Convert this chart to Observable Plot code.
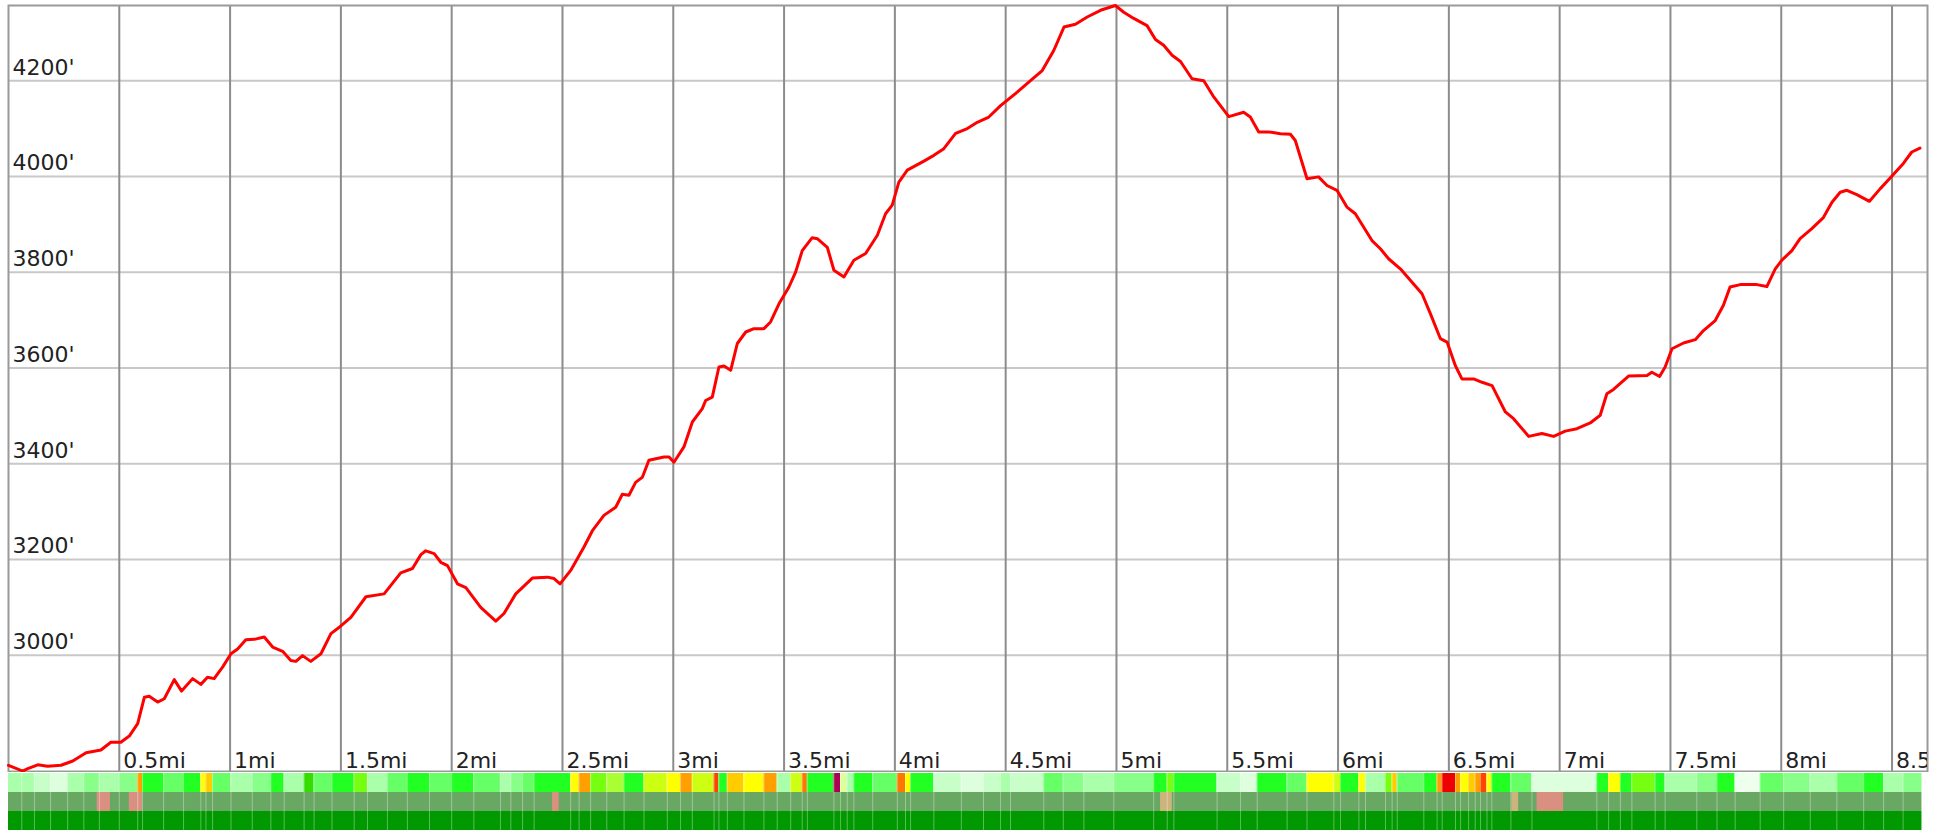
<!DOCTYPE html>
<html><head><meta charset="utf-8">
<script src="https://cdn.jsdelivr.net/npm/d3@7"></script>
<script src="https://cdn.jsdelivr.net/npm/@observablehq/plot@0.6"></script>
<style>
html,body{margin:0;padding:0;background:#fff;}
#chart svg{display:block;}
</style></head><body><div id="chart"></div>
<script>
// Elevation profile (distance in miles, elevation in feet)
const miles = [0.000,0.064,0.087,0.132,0.177,0.237,0.290,0.350,0.417,0.462,0.507,0.545,0.583,0.613,0.635,0.673,0.703,0.748,0.781,0.831,0.868,0.898,0.928,0.966,1.004,1.034,1.071,1.109,1.154,1.192,1.237,1.274,1.297,1.327,1.364,1.410,1.455,1.500,1.545,1.613,1.695,1.770,1.823,1.861,1.883,1.921,1.951,1.981,2.026,2.064,2.131,2.199,2.236,2.289,2.364,2.432,2.462,2.489,2.537,2.597,2.635,2.687,2.740,2.770,2.800,2.830,2.861,2.890,2.958,2.981,3.003,3.048,3.086,3.131,3.146,3.176,3.206,3.229,3.259,3.289,3.327,3.364,3.409,3.439,3.477,3.522,3.552,3.582,3.627,3.650,3.695,3.725,3.770,3.815,3.868,3.921,3.958,3.988,4.018,4.056,4.131,4.176,4.221,4.274,4.327,4.372,4.424,4.477,4.552,4.612,4.665,4.717,4.763,4.815,4.868,4.928,4.995,5.033,5.078,5.138,5.176,5.213,5.251,5.289,5.341,5.394,5.439,5.507,5.574,5.604,5.642,5.687,5.740,5.785,5.807,5.860,5.912,5.950,5.995,6.040,6.078,6.153,6.191,6.228,6.281,6.326,6.379,6.417,6.462,6.492,6.529,6.559,6.612,6.650,6.695,6.755,6.792,6.860,6.920,6.973,7.025,7.078,7.138,7.183,7.213,7.243,7.311,7.394,7.416,7.451,7.476,7.507,7.559,7.612,7.649,7.702,7.739,7.769,7.815,7.890,7.935,7.973,8.003,8.048,8.085,8.138,8.190,8.229,8.266,8.296,8.341,8.398,8.446,8.506,8.551,8.589,8.626];
const elev = [2770,2758,2763,2771,2768,2770,2779,2796,2802,2818,2818,2831,2857,2912,2914,2902,2909,2949,2925,2951,2939,2954,2951,2975,3003,3013,3032,3033,3038,3017,3008,2989,2987,2999,2987,3003,3045,3061,3079,3122,3128,3172,3181,3210,3218,3212,3194,3187,3149,3141,3100,3071,3087,3128,3161,3163,3160,3149,3177,3226,3260,3292,3309,3336,3334,3361,3372,3407,3414,3414,3403,3435,3487,3515,3532,3539,3602,3604,3595,3651,3675,3682,3682,3696,3734,3769,3800,3845,3872,3870,3852,3804,3790,3825,3839,3877,3922,3940,3988,4013,4032,4044,4058,4090,4100,4113,4124,4148,4176,4200,4221,4263,4312,4318,4333,4347,4357,4343,4330,4315,4286,4274,4253,4240,4204,4200,4166,4125,4134,4124,4093,4093,4089,4088,4075,3995,3999,3981,3971,3936,3922,3866,3849,3828,3807,3783,3755,3713,3661,3654,3605,3577,3577,3570,3563,3508,3494,3457,3463,3457,3468,3473,3485,3501,3546,3555,3583,3584,3591,3582,3602,3640,3652,3659,3678,3699,3731,3769,3774,3774,3770,3807,3825,3845,3870,3891,3914,3946,3967,3971,3962,3948,3974,4004,4027,4051,4059];

const yTicks = [3000,3200,3400,3600,3800,4000,4200];
const xTicks = [0.5,1,1.5,2,2.5,3,3.5,4,4.5,5,5.5,6,6.5,7,7.5,8,8.5];

// Grade strip: run start (mi) and grade class
const gradeStart = [0,0.06,0.117,0.19,0.267,0.34,0.41,0.50,0.583,0.605,0.70,0.79,0.868,0.891,0.921,1.004,1.10,1.184,1.244,1.334,1.379,1.46,1.56,1.62,1.71,1.80,1.90,2.00,2.10,2.22,2.267,2.32,2.372,2.537,2.575,2.627,2.70,2.778,2.868,2.973,3.033,3.086,3.184,3.206,3.244,3.319,3.409,3.469,3.530,3.582,3.605,3.725,3.755,3.785,3.815,3.90,4.011,4.048,4.071,4.176,4.30,4.40,4.477,4.522,4.672,4.76,4.853,4.988,5.168,5.229,5.259,5.454,5.56,5.635,5.770,5.860,5.981,6.011,6.094,6.124,6.214,6.244,6.267,6.387,6.447,6.470,6.530,6.553,6.589,6.619,6.643,6.672,6.694,6.78,6.875,7.168,7.221,7.274,7.326,7.431,7.476,7.619,7.710,7.792,7.905,8.011,8.131,8.251,8.372,8.462,8.55];
const gradeClass = ["l","l","vl","vl2","l","lm","l","lm","o","g","m","g","y","gold","m","l","lm","g","l","g2","m","g","yg","l","m","g","m","g","m","l","lm","m","g","y","o","yg","ygl","g","ly","y","o","ly","ro","g","gold","y","o","l","ly","do","g","p","pl","l","g","m","do","y","g","vl","vl2","vl","l","vl","m","lm","l","lm","g","yg","g","vl","vl2","g","m","y","ly","g","y","l","yg","gold","m","g","o","r","o","y","gold","o","ro","y","g","m","vl2","g","y","g","yg","g","l","lm","g","vvl","m","lm","l","m","g","l","lm"];
const stripEnd = 8.635;
const classNames = ["vvl","vl2","vl","l","lm","m","g","g2","yg","ygl","ly","pl","y","gold","o","do","ro","r","p"];
const classColors = ["#eeffee","#ddffdd","#c8ffc8","#aaffaa","#88ff88","#66ff66","#22ff22","#33dd00","#77ff11","#aaff33","#ccff11","#ddff99","#ffff00","#ffcc00","#ffa000","#ff7700","#ff4400","#ee0000","#aa0055"];

// Surface strip
const surfaceStart = [0,0.40,0.545,2.455,5.199,6.785,6.898];
const surfaceEnd = [8.635,0.46,0.605,2.485,5.252,6.815,7.018];
const surfaceType = ["trail","paved","paved","paved","gravel","gravel","paved"];
const surfaceNames = ["trail","paved","gravel"];
const surfaceColors = ["#68a862","#d99080","#ccb47c"];

const baseColor = "#009900";

// ---- build tables
const profile = miles.map((m, i) => ({mi: m, ft: elev[i]}));
const colorOf = Object.fromEntries(classNames.map((c, i) => [c, classColors[i]]));
const gradeRuns = gradeStart.map((s, i) => ({
  start: s, end: i + 1 < gradeStart.length ? gradeStart[i + 1] : stripEnd,
  row: "grade", color: colorOf[gradeClass[i]]
}));
const surfColorOf = Object.fromEntries(surfaceNames.map((c, i) => [c, surfaceColors[i]]));
const surfaceRuns = surfaceStart.map((s, i) => ({start: s, end: surfaceEnd[i], row: "surface", color: surfColorOf[surfaceType[i]]}));
const baseRuns = [{start: 0, end: stripEnd, row: "base", color: baseColor}];

const W = 1940;
const xDomain = [0, 8.66];
const font = "DejaVu Sans, Verdana, sans-serif";

const main = Plot.plot({
  width: W, height: 772,
  marginLeft: 8, marginRight: 13, marginTop: 5, marginBottom: 1,
  x: {domain: xDomain, axis: null},
  y: {domain: [2757, 4357], axis: null},
  style: {fontFamily: font, fontSize: "22px", background: "#fff"},
  marks: [
    Plot.ruleY(yTicks, {stroke: "#c8c8c8", strokeWidth: 2}),
    Plot.ruleX(xTicks, {stroke: "#8c8c8c", strokeWidth: 2}),
    Plot.frame({stroke: "#9a9a9a", strokeWidth: 2}),
    Plot.line(profile, {x: "mi", y: "ft", stroke: "#ff0000", strokeWidth: 3, strokeLinejoin: "round", strokeLinecap: "round"}),
    Plot.text(yTicks, {y: d => d, frameAnchor: "left", text: d => `${d}'`, textAnchor: "start", lineAnchor: "bottom", dx: 4, dy: -6, fill: "#222", fontSize: 22}),
    Plot.text(xTicks, {x: d => d, frameAnchor: "bottom", text: d => `${d}mi`, textAnchor: "start", lineAnchor: "bottom", dx: 4, dy: -4, fill: "#222", fontSize: 22, clip: true})
  ]
});

const strip = Plot.plot({
  width: W, height: 58,
  marginLeft: 8, marginRight: 13, marginTop: 0, marginBottom: 0,
  x: {domain: xDomain, axis: null},
  y: {domain: ["grade", "surface", "base"], axis: null, padding: 0},
  color: {type: "identity"},
  style: {background: "#fff"},
  marks: [
    Plot.barX(gradeRuns, {x1: "start", x2: "end", y: "row", fill: "color"}),
    Plot.barX(surfaceRuns, {x1: "start", x2: "end", y: "row", fill: "color"}),
    Plot.barX(baseRuns, {x1: "start", x2: "end", y: "row", fill: "color"}),
    Plot.ruleX(gradeStart.slice(1), {stroke: "#ffffff", strokeOpacity: 0.35, strokeWidth: 1})
  ]
});

const host = document.getElementById("chart");
host.appendChild(main);
host.appendChild(strip);
</script></body></html>
